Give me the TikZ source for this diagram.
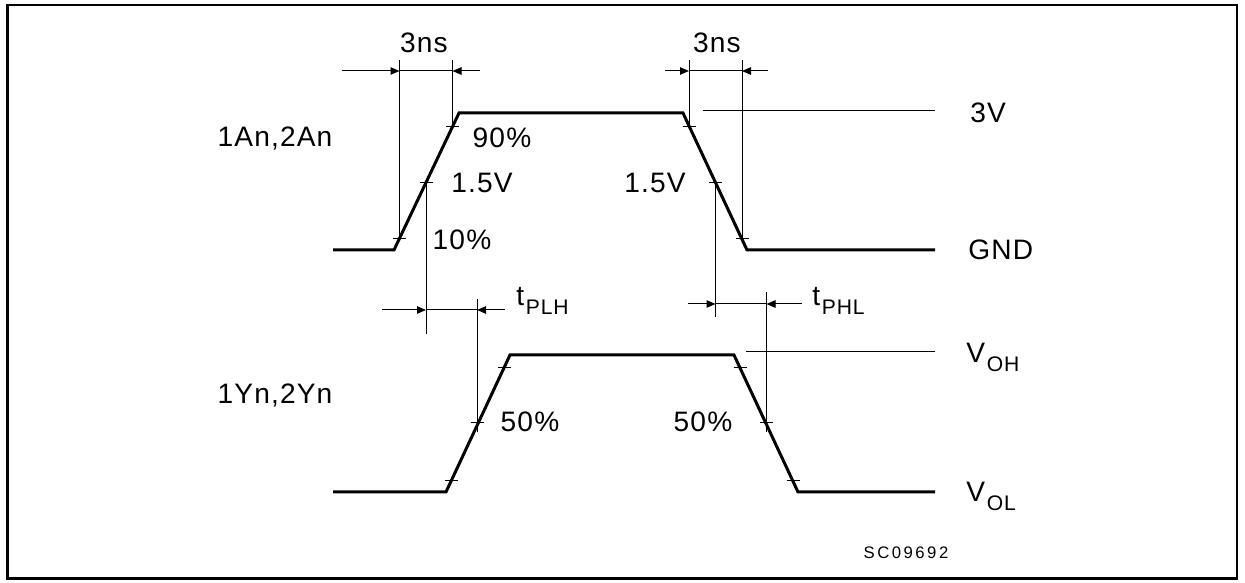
\documentclass[tikz,border=0pt]{standalone}
\usepackage{fontspec}
\setmainfont{Liberation Sans}[LetterSpace=4]
\usetikzlibrary{arrows.meta}
\newcommand\lowidx[1]{\raisebox{-5pt}{\fontsize{12}{12}\selectfont #1}}

\begin{document}
\begin{tikzpicture}[x=0.2mm,y=-0.2mm,
  wave/.style={line width=.6mm},
  guide/.style={line width=.2mm},
  dim/.style={guide,-{Triangle[length=1.8mm,width=1.5mm]}},
  lbl/.style={inner sep=0pt,font=\fontsize{16}{19}\selectfont}
]
  \useasboundingbox (0,0) rectangle (1245,583);
  \draw[line width=.5mm] (7.5,5) rectangle (1237,578.5);

  % input waveform
  \coordinate (a0) at (333,250);
  \coordinate (a1) at (394,250);
  \coordinate (a2) at (459,113);
  \coordinate (a3) at (683,113);
  \coordinate (a4) at (747,250);
  \coordinate (a5) at (935,250);
  \coordinate (ar1) at (399.5,239);
  \coordinate (ar5) at (426,183);
  \coordinate (ar9) at (452.5,127);
  \coordinate (af9) at (689,127);
  \coordinate (af5) at (715.5,183);
  \coordinate (af1) at (742,239);
  \draw[wave] (a0) -- (a1) -- (a2) -- (a3) -- (a4) -- (a5);

  % output waveform
  \coordinate (b0) at (333,492);
  \coordinate (b1) at (446,492);
  \coordinate (b2) at (510,355);
  \coordinate (b3) at (734,355);
  \coordinate (b4) at (798,492);
  \coordinate (b5) at (935,492);
  \coordinate (br1) at (451,481);
  \coordinate (br5) at (477,423);
  \coordinate (br9) at (504,368);
  \coordinate (bf9) at (740,368);
  \coordinate (bf5) at (766.5,423);
  \coordinate (bf1) at (793,481);
  \draw[wave] (b0) -- (b1) -- (b2) -- (b3) -- (b4) -- (b5);

  % tick marks
  \foreach \p in {ar1,ar5,ar9,af9,af5,af1,br1,br5,br9,bf9,bf5,bf1}
    \draw[guide] (\p) ++(-6.5,0) -- ++(13,0);

  % level lines
  \draw[guide] (703,111) -- (935,111);
  \draw[guide] (746,352) -- (935,352);

  % guide lines
  \coordinate (dimtop) at (0,60);
  \draw[guide] (ar1 |- dimtop) -- (ar1);
  \draw[guide] (ar9 |- dimtop) -- (ar9);
  \draw[guide] (af9 |- dimtop) -- (af9);
  \draw[guide] (af1 |- dimtop) -- (af1);
  \draw[guide] (ar5) -- ++(0,151);
  \draw[guide] (af5) -- ++(0,134);
  \draw[guide] (br5) ++(0,9) -- ++(0,-133);
  \draw[guide] (bf5) ++(0,9) -- ++(0,-140);

  % 3ns dimensions
  \coordinate (trise) at (0,71);
  \draw[dim] (ar1 |- trise) ++(-58,0) -- (ar1 |- trise);
  \draw[guide] (ar1 |- trise) -- (ar9 |- trise);
  \draw[dim] (ar9 |- trise) ++(27,0) -- (ar9 |- trise);
  \draw[dim] (af9 |- trise) ++(-24,0) -- (af9 |- trise);
  \draw[guide] (af9 |- trise) -- (af1 |- trise);
  \draw[dim] (af1 |- trise) ++(26,0) -- (af1 |- trise);

  % propagation delays
  \coordinate (dlh) at (0,310);
  \coordinate (dhl) at (0,304);
  \draw[dim] (ar5 |- dlh) ++(-44,0) -- (ar5 |- dlh);
  \draw[guide] (ar5 |- dlh) -- (br5 |- dlh);
  \draw[dim] (br5 |- dlh) ++(28,0) -- (br5 |- dlh);
  \draw[dim] (af5 |- dhl) ++(-28,0) -- (af5 |- dhl);
  \draw[guide] (af5 |- dhl) -- (bf5 |- dhl);
  \draw[dim] (bf5 |- dhl) ++(35,0) -- (bf5 |- dhl);

  % labels
  \node[lbl] (ns1) at (424,43) {3ns};
  \node[lbl] (ns2) at (717,43) {3ns};
  \node[lbl] (inA) at (275,138) {1An,2An};
  \node[lbl] (p90) at (502,138) {90\%};
  \node[lbl] (v15a) at (482,183) {1.5V};
  \node[lbl] (v15b) at (655,183) {1.5V};
  \node[lbl] (p10) at (462,240) {10\%};
  \node[lbl,anchor=west] (v3) at (970,113) {3V};
  \node[lbl,anchor=west] (gnd) at (968,250) {GND};
  \node[lbl,anchor=base west] (tplh) at (516,306) {t\hspace{1pt}\lowidx{PLH}};
  \node[lbl,anchor=base west] (tphl) at (812,306) {t\hspace{1pt}\lowidx{PHL}};
  \node[lbl,anchor=base west] (voh) at (966,363) {V\hspace{1pt}\lowidx{OH}};
  \node[lbl,anchor=base west] (vol) at (966,502) {V\hspace{1pt}\lowidx{OL}};
  \node[lbl] (inY) at (275,395) {1Yn,2Yn};
  \node[lbl] (p50a) at (530,422) {50\%};
  \node[lbl] (p50b) at (703,422) {50\%};
  \node[inner sep=0pt,font=\fontsize{9.5}{11}\selectfont\addfontfeature{LetterSpace=15}] (code) at (906,553) {SC09692};
\end{tikzpicture}
\end{document}
